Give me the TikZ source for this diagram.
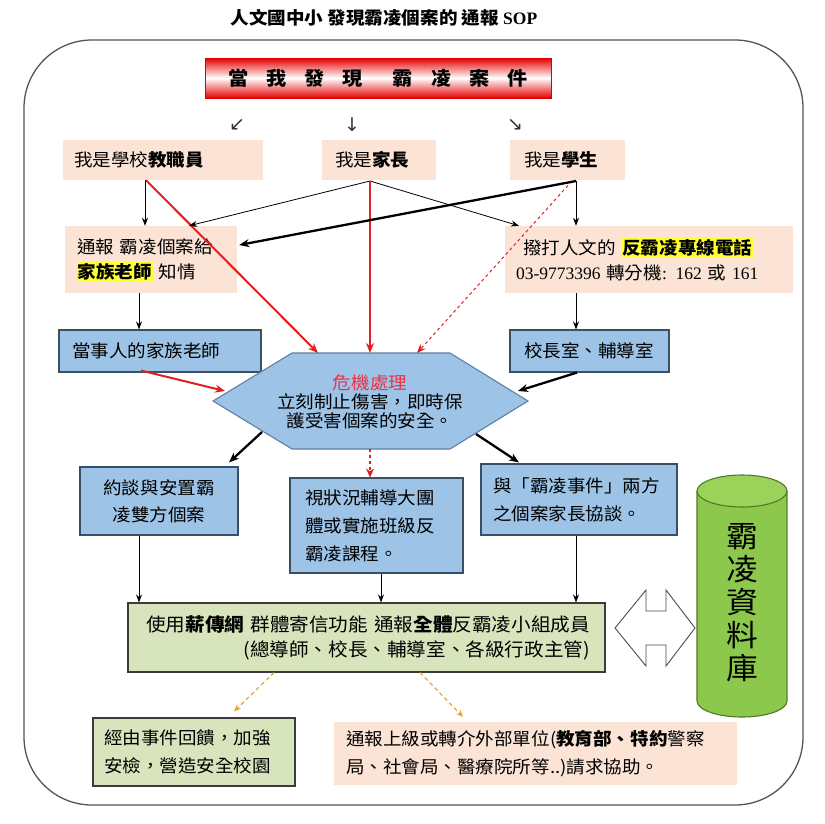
\documentclass[tikz,border=0pt]{standalone}
\usepackage{fontspec}
\setmainfont{Noto Sans CJK TC}[FakeStretch=1.06]
\newfontfamily\symfont{DejaVu Sans}
\newfontfamily\latinf{Liberation Serif}
\usetikzlibrary{arrows.meta}
\definecolor{peach}{HTML}{FBE4D5}
\definecolor{boxblue}{HTML}{9DC3E6}
\definecolor{boxborder}{HTML}{3A4F66}
\definecolor{hexborder}{HTML}{5E7FA6}
\definecolor{lgreen}{HTML}{D8E4BC}
\definecolor{gborder}{HTML}{3B3B3B}
\definecolor{cylgreen}{HTML}{8CC84B}
\definecolor{cyltop}{HTML}{9BD25A}
\definecolor{cylborder}{HTML}{4E7A2A}
\definecolor{arrred}{HTML}{E02020}
\definecolor{crisisred}{HTML}{E8334A}
\definecolor{orangeA}{HTML}{E6A23C}
\definecolor{hly}{HTML}{FFFF33}
\definecolor{framegray}{HTML}{555555}
\newcommand\hlt[1]{{\setlength\fboxsep{0.8pt}\colorbox{hly}{#1}}}
\begin{document}
\begin{tikzpicture}[x=1pt,y=-1pt,
  txt/.style={font=\fontsize{17.5}{25}\selectfont},
  peachbox/.style={txt,fill=peach,align=left,inner ysep=0pt},
  bluebox/.style={txt,fill=boxblue,draw=boxborder,line width=1.1pt,inner ysep=0pt},
  greenbox/.style={txt,fill=lgreen,draw=gborder,line width=1.1pt,inner ysep=0pt},
  thinarr/.style={draw=black,line width=0.8pt,-{Stealth[length=8pt,width=6pt]}},
  thickarr/.style={draw=black,line width=2.3pt,-{Stealth[length=10pt,width=8pt]}},
  redarr/.style={draw=arrred,line width=2pt,-{Stealth[length=10pt,width=8pt]}},
  reddash/.style={draw=arrred,line width=1pt,dashed,-{Stealth[length=9pt,width=7pt]}},
  reddot/.style={draw=arrred,line width=2pt,dash pattern=on 3pt off 3pt,-{Stealth[length=9pt,width=8pt]}},
  orangearr/.style={draw=orangeA,line width=1.2pt,dash pattern=on 4pt off 3pt,-{Stealth[length=7pt,width=6pt]}},
  glyph/.style={font=\symfont\fontsize{19}{19}\selectfont\color{black!80},inner sep=0pt}
]
\useasboundingbox (0,0) rectangle (825,823);

% title
\node[font=\fontsize{17.5}{20}\selectfont\bfseries] (title) at (384,18) {人文國中小 發現霸凌個案的 通報 {\latinf\bfseries SOP}};

% outer frame
\draw[framegray,line width=1.3pt,rounded corners=68pt] (24,40) rectangle (803,805);

% banner
\node[minimum width=346pt,minimum height=40pt,draw=red!85!black,line width=0.8pt,
      top color=red!90!black,bottom color=red!90!black,middle color=white,
      font=\fontsize{19}{20}\selectfont\bfseries] (banner) at (378,78)
  {當\hspace{18pt}我\hspace{18pt}發\hspace{18pt}現\hspace{30pt}霸\hspace{18pt}凌\hspace{18pt}案\hspace{18pt}件};

% small glyph arrows
\node[glyph] (g1) at (237,125) {↙};
\node[glyph] (g2) at (352,125) {↓};
\node[glyph] (g3) at (515,125) {↘};

% row 1
\node[peachbox,minimum height=40pt,inner xsep=11pt,text width=178pt] (t1) at (163,160) {我是學校\textbf{教職員}};
\node[peachbox,minimum height=40pt,inner xsep=13pt,text width=88pt] (t2) at (379,160) {我是\textbf{家長}};
\node[peachbox,minimum height=40pt,inner xsep=14pt,text width=87pt] (t3) at (567.5,160) {我是\textbf{學生}};

% row 2
\node[peachbox,minimum height=67pt,inner xsep=12pt,text width=148pt] (a1) at (151,259.5) {通報 霸凌個案給\\\hlt{\textbf{家族老師}} 知情};
\node[peachbox,minimum height=67pt,inner xsep=11pt,text width=266pt] (a2) at (649,259.5) {\hspace{7pt}撥打人文的 \hlt{\textbf{反霸凌專線電話}}\\{\latinf 03-9773396} 轉分機{\latinf : 162} 或 {\latinf 161}};

% row 3
\node[bluebox,minimum height=42pt,inner xsep=13pt,text width=176pt,align=left] (b1) at (160,351) {當事人的家族老師};
\node[bluebox,minimum height=42pt,inner xsep=14pt,text width=131pt,align=left] (b2) at (589.5,351) {校長室、輔導室};

% hexagon
\coordinate (hL) at (213,401);
\coordinate (hTL) at (292,353);
\coordinate (hTR) at (450,353);
\coordinate (hR) at (528,401);
\coordinate (hBR) at (450,449);
\coordinate (hBL) at (292,449);
\draw[fill=boxblue,draw=hexborder,line width=1.1pt] (hL) -- (hTL) -- (hTR) -- (hR) -- (hBR) -- (hBL) -- cycle;
\node[font=\fontsize{17.5}{19}\selectfont,align=center,inner sep=0pt] (hx) at (370,402)
  {{\color{crisisred}危機處理}\\立刻制止傷害，即時保\\護受害個案的安全。};
\coordinate (hin1) at (318,353);
\coordinate (hin2) at (370,353);
\coordinate (hin3) at (417,353);
\coordinate (hin4) at (225,391);
\coordinate (hin5) at (518,391);
\coordinate (hout1) at (262,432);
\coordinate (hout2) at (370,449);
\coordinate (hout3) at (476,434);

% row 4
\node[bluebox,minimum height=68pt,minimum width=158pt,align=center,inner xsep=4pt,font=\fontsize{17.5}{27}\selectfont] (c1) at (159,501) {約談與安置霸\\凌雙方個案};
\node[bluebox,minimum height=95pt,inner xsep=15pt,text width=143pt,align=left,font=\fontsize{17.5}{28}\selectfont] (c2) at (376.5,525.5) {視狀況輔導大團\\體或實施班級反\\霸凌課程。};
\node[bluebox,minimum height=71pt,inner xsep=12pt,text width=172pt,align=left,font=\fontsize{17.5}{28}\selectfont] (c3) at (579,499.5) {與「霸凌事件」兩方\\之個案家長協談。};

% row 5
\node[greenbox,minimum height=69pt,inner xsep=15pt,text width=447pt,align=right,font=\fontsize{18.5}{25}\selectfont] (d) at (366.5,637.5)
  {使用\textbf{薪傳網} 群體寄信功能 通報\textbf{全體}反霸凌小組成員\\(總導師、校長、輔導室、各級行政主管)};

% row 6
\node[greenbox,minimum height=68pt,inner xsep=11pt,text width=180pt,align=left,font=\fontsize{17.5}{28}\selectfont] (e1) at (194,752) {經由事件回饋，加強\\安檢，營造安全校園};
\node[peachbox,minimum height=63pt,inner xsep=12pt,text width=379pt,font=\fontsize{17.5}{28}\selectfont] (e2) at (535.5,753.5) {通報上級或轉介外部單位(\textbf{教育部、特約}警察\\局、社會局、醫療院所等..)請求協助。};

% cylinder database
\fill[cylgreen] (697,491) rectangle (787,701);
\fill[cylgreen] (742,701) ellipse (45 and 16);
\draw[cylborder,line width=1.1pt] (697,491) -- (697,701) arc[start angle=180,end angle=0,x radius=45,y radius=16] -- (787,491);
\draw[cylborder,line width=1.1pt,fill=cyltop] (742,491) ellipse (45 and 16);
\node[font=\fontsize{30}{33}\selectfont,align=center,inner sep=0pt] (db) at (742,603) {霸\\凌\\資\\料\\庫};

% hollow double arrow between d and database
\draw[black!70,line width=0.9pt,fill=white]
  (615,628) -- (646,590) -- (646,611) -- (666,611) -- (666,590) -- (695,628)
  -- (666,666) -- (666,645) -- (646,645) -- (646,666) -- cycle;

% connectors
\draw[thinarr] ([xshift=-18pt]t1.south) -- ([xshift=-6pt]a1.north);
\draw[redarr] ([xshift=-17pt]t1.south) -- (hin1);
\coordinate (t2b) at (370,181);
\draw[thinarr] (t2b) -- ([xshift=38pt]a1.north);
\draw[thinarr] (t2b) -- ([xshift=-130pt]a2.north);
\draw[redarr] (t2b) -- (hin2);
\coordinate (t3b) at (576,181);
\draw[reddash] ([xshift=-4pt]t3b) -- (hin3);
\draw[thickarr] (t3b) -- ([xshift=2pt,yshift=14.5pt]a1.east);
\draw[thinarr] (t3b) -- ([xshift=-73pt]a2.north);
\draw[thinarr] ([xshift=-12pt]a1.south) -- ([xshift=-21pt]b1.north);
\draw[thinarr] ([xshift=-73pt]a2.south) -- ([xshift=-13.5pt]b2.north);
\draw[redarr] ([xshift=-19pt,yshift=2pt]b1.south) -- (hin4);
\draw[thickarr] ([xshift=-12.5pt]b2.south) -- (hin5);
\draw[thickarr] (hout1) -- ([xshift=70pt,yshift=4pt]c1.north);
\draw[reddot] (hout2) -- ([xshift=-6.5pt]c2.north);
\draw[thickarr] (hout3) -- ([xshift=-60pt,yshift=1pt]c3.north);
\draw[thinarr] ([xshift=-20pt]c1.south) -- ([xshift=-227.5pt]d.north);
\draw[thinarr] ([xshift=4.5pt]c2.south) -- ([xshift=14.5pt]d.north);
\draw[thinarr] ([xshift=-3pt]c3.south) -- ([xshift=209.5pt]d.north);
\draw[orangearr] ([xshift=-92.5pt]d.south) -- ([xshift=40pt,yshift=6pt]e1.north);
\draw[orangearr] ([xshift=53.5pt]d.south) -- ([xshift=-72.5pt,yshift=5pt]e2.north);
\end{tikzpicture}
\end{document}
